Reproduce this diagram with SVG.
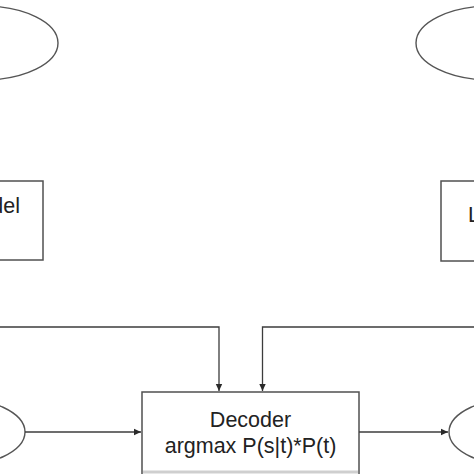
<svg xmlns="http://www.w3.org/2000/svg" width="474" height="474" viewBox="0 0 474 474">
<style>
.shape{fill:#fff;stroke:#505050;stroke-width:1.5}
.ell{fill:#fff;stroke:#555;stroke-width:1.4}
.conn{fill:none;stroke:#3c3c3c;stroke-width:1.3}
.lbl{font-family:"Liberation Sans",Arial,sans-serif;font-size:21.5px;fill:#222}
</style>
<defs>
<marker id="arr" markerWidth="8" markerHeight="8" refX="7" refY="4" orient="auto" markerUnits="userSpaceOnUse">
<path d="M0,0.8 L7,4 L0,7.2 Z" fill="#2a2a2a"/>
</marker>
</defs>
<rect width="474" height="474" fill="#fff"/>
<g id="source-top"><ellipse class="ell" cx="-17" cy="43" rx="75" ry="37"/></g>
<g id="target-top"><ellipse class="ell" cx="491" cy="43" rx="75" ry="37"/></g>
<g id="translation-model"><rect class="shape" x="-10" y="181" width="53" height="79"/><text class="lbl" x="20" y="213" text-anchor="end">del</text></g>
<g id="language-model"><rect class="shape" x="441" y="181" width="50" height="80"/><text class="lbl" x="468" y="222">L</text></g>
<g id="input"><ellipse class="ell" cx="-50" cy="432" rx="75" ry="35"/></g>
<g id="output"><ellipse class="ell" cx="524" cy="432" rx="75" ry="35"/></g>
<g id="decoder">
<rect class="shape" x="142" y="392" width="217" height="95"/>
<line x1="143" y1="472" x2="358" y2="472" stroke="#cfcfcf" stroke-width="3"/>
<text class="lbl" x="250.5" y="427" text-anchor="middle">Decoder</text>
<text class="lbl" x="250.5" y="453" text-anchor="middle">argmax P(s|t)*P(t)</text>
</g>
<g id="connectors">
<path class="conn" d="M-2,327 H219 V391" marker-end="url(#arr)"/>
<path class="conn" d="M476,327 H262.5 V391" marker-end="url(#arr)"/>
<path class="conn" d="M25,432 H141" marker-end="url(#arr)"/>
<path class="conn" d="M359,432 H448" marker-end="url(#arr)"/>
</g>
</svg>
